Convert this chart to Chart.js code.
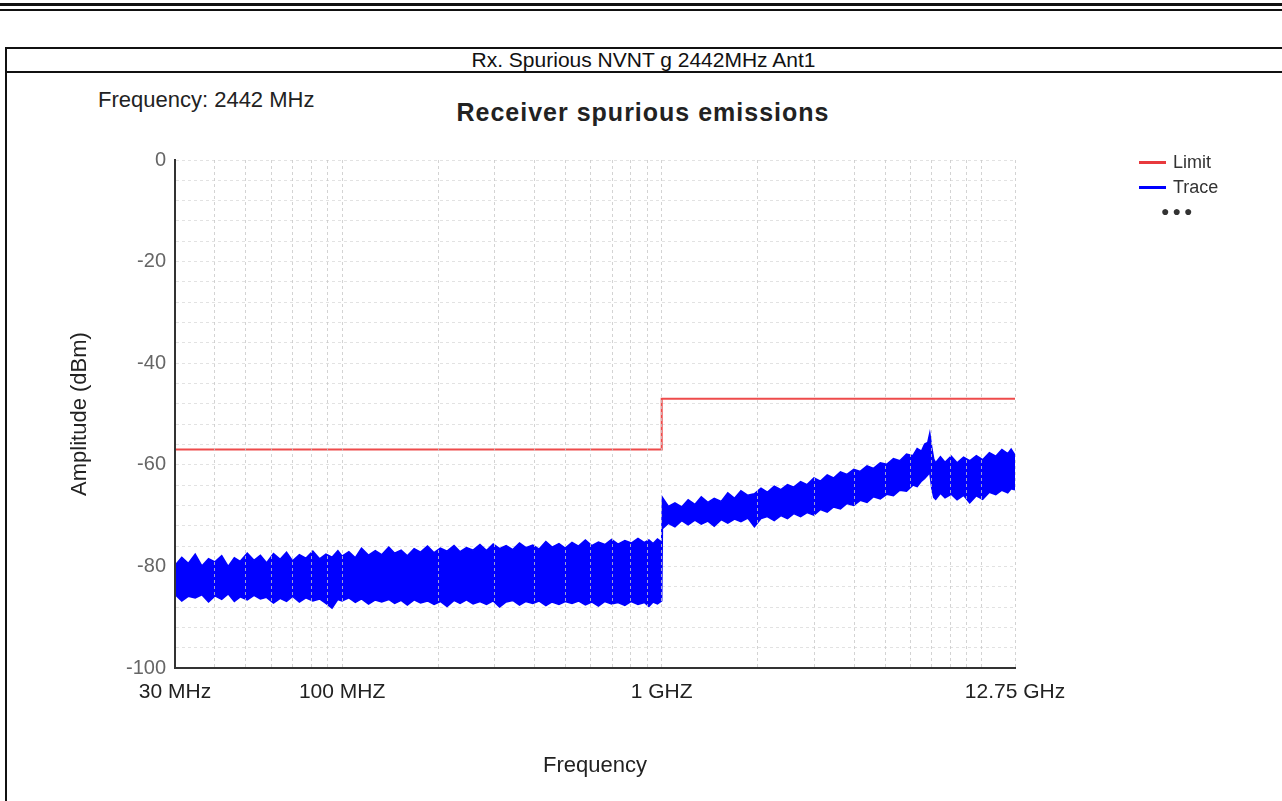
<!DOCTYPE html>
<html>
<head>
<meta charset="utf-8">
<title>Rx. Spurious NVNT g 2442MHz Ant1</title>
<script src="https://cdn.jsdelivr.net/npm/chart.js@4.4.1/dist/chart.umd.min.js"></script>
<style>
  html, body { margin: 0; padding: 0; background: #fff; }
  body { width: 1282px; height: 801px; position: relative; overflow: hidden; font-family: "Liberation Sans", Arial, sans-serif; color: #222; }
  .abs { position: absolute; }
  .rule1 { left: 0; top: 3px; width: 1282px; height: 3px; background: #111; }
  .rule2 { left: 0; top: 9px; width: 1282px; height: 2px; background: #111; }
  .tbl-top { left: 5px; top: 47px; width: 1277px; height: 1px; border-top: 2px solid #111; }
  .tbl-row { left: 5px; top: 71px; width: 1277px; height: 0; border-top: 2px solid #111; }
  .tbl-left { left: 5px; top: 47px; width: 0; height: 754px; border-left: 2px solid #111; }
  .row-title { left: 5px; top: 48px; width: 1277px; height: 23px; line-height: 23px; text-align: center; font-size: 21px; color: #111; }
  .freq-note { left: 98px; top: 88px; font-size: 22px; line-height: 24px; color: #222; white-space: nowrap; }
  .chart-title { left: 0; top: 97px; width: 1286px; text-align: center; font-size: 25px; font-weight: bold; letter-spacing: 1px; line-height: 30px; color: #222; white-space: nowrap; }
  .wrap { left: 6px; top: 73px; width: 1276px; height: 728px; }
  .legend { left: 1139px; top: 150px; font-size: 18px; color: #333; line-height: 25px; }
  .legend .item { position: relative; height: 25px; white-space: nowrap; }
  .legend .sw { display: inline-block; width: 27px; height: 3px; vertical-align: middle; margin-right: 7px; position: relative; top: -1px; }
  .legend .dots { padding-left: 22px; letter-spacing: 3px; font-size: 14px; line-height: 22px; }
</style>
</head>
<body>
<div class="abs rule1"></div>
<div class="abs rule2"></div>
<div class="abs tbl-top"></div>
<div class="abs tbl-row"></div>
<div class="abs tbl-left"></div>
<div class="abs row-title">Rx. Spurious NVNT g 2442MHz Ant1</div>
<div class="abs freq-note">Frequency: 2442 MHz</div>
<div class="abs chart-title">Receiver spurious emissions</div>
<div class="abs wrap"><canvas id="rx-chart" width="1276" height="728"></canvas></div>
<div class="abs legend">
  <div class="item"><span class="sw" style="background:#e8393d;"></span>Limit</div>
  <div class="item"><span class="sw" style="background:#0000ff;"></span>Trace</div>
  <div class="item dots">&#9679;&#9679;&#9679;</div>
</div>
<script>
(function() {
"use strict";

// Trace envelope (top / bottom of the noise band), MHz and dBm
var traceFreq = [30, 31.5, 33, 34.7, 36.4, 38.2, 40, 42, 44, 46,
  48, 50.5, 53, 55.5, 58, 61, 64, 67, 70, 73.5,
  77, 81, 85, 89, 93, 97, 100, 105, 110, 115,
  121, 127, 133, 140, 146, 153, 160, 168, 176, 185,
  194, 203, 213, 224, 234, 245, 257, 270, 283, 297,
  311, 326, 342, 359, 376, 395, 413, 434, 454, 477,
  499, 524, 549, 577, 604, 634, 664, 697, 730, 767,
  803, 843, 883, 912, 940, 970, 1000,
  1005, 1050, 1100, 1155, 1210, 1270, 1330, 1395, 1460, 1535,
  1610, 1690, 1770, 1860, 1950, 2045, 2140, 2250, 2360, 2475,
  2590, 2720, 2850, 2995, 3140, 3295, 3450, 3625, 3800, 3990,
  4180, 4390, 4600, 4830, 5060, 5310, 5560, 5835, 6110, 6300,
  6500, 6650, 6800, 6900, 7000, 7100, 7200, 7450, 7700, 8050,
  8400, 8800, 9200, 9650, 10100, 10600, 11100, 11600, 12100, 12400,
  12750];
var traceHigh = [-79.8, -78.2, -79.4, -77.6, -79.9, -78.5, -79.1, -77.9, -80.0, -78.3,
  -79.0, -77.4, -78.8, -77.8, -79.3, -77.5, -78.6, -77.2, -78.9, -77.7,
  -78.4, -77.0, -78.5, -77.6, -78.2, -76.9, -78.0, -77.1, -78.3, -76.4,
  -77.8, -76.9, -77.7, -76.2, -77.4, -76.8, -77.9, -76.5, -77.2, -76.0,
  -77.3, -76.4, -77.0, -75.9, -77.1, -76.3, -76.8, -75.7, -76.9, -75.6,
  -76.5, -75.9, -76.7, -75.4, -76.3, -75.8, -76.6, -75.1, -76.2, -75.5,
  -76.4, -75.3, -76.0, -74.8, -75.9, -75.2, -75.7, -74.7, -75.6, -74.9,
  -75.4, -74.5, -75.3, -74.8, -75.5, -74.6, -75.2,
  -66.4, -68.2, -67.5, -68.3, -66.9, -67.8, -66.3, -67.4, -66.6, -67.2,
  -65.5, -66.6, -65.1, -66.0, -65.7, -64.6, -65.4, -64.2, -64.9, -63.9,
  -64.4, -63.3, -63.9, -62.6, -63.2, -62.0, -62.6, -61.4, -61.9, -60.9,
  -61.3, -60.2, -60.7, -59.6, -59.9, -58.8, -59.2, -57.9, -58.2, -56.8,
  -57.3, -55.9, -55.6, -53.8, -56.6, -58.9, -59.6, -58.4, -59.5, -58.3,
  -59.6, -58.5, -59.2, -58.2, -59.0, -57.6, -58.3, -57.0, -57.8, -56.9,
  -58.1];
var traceLow = [-85.5, -86.8, -85.9, -86.2, -85.6, -87.0, -85.8, -86.5, -85.4, -86.9,
  -86.0, -86.6, -85.7, -86.4, -86.1, -87.2, -86.3, -86.9, -85.9, -87.0,
  -86.2, -86.8, -86.4, -87.3, -88.2, -86.5, -86.8, -86.2, -87.1, -86.4,
  -87.4, -86.6, -87.0, -86.5, -87.3, -86.7, -87.6, -86.6, -87.2, -86.8,
  -87.5, -86.9, -87.9, -86.7, -87.3, -86.6, -87.4, -86.9, -87.5, -86.8,
  -88.0, -87.0, -86.7, -87.6, -86.9, -87.3, -86.8, -87.7, -87.0, -87.5,
  -86.9, -87.3, -86.8, -87.6, -87.0, -87.8, -86.9, -87.4, -87.1, -87.7,
  -86.9, -87.5, -87.1, -87.9, -87.0, -87.4, -86.8,
  -72.6, -71.5, -72.2, -71.0, -71.8, -70.9, -71.7, -71.1, -72.1, -70.8,
  -71.5, -70.7, -71.2, -70.5, -72.2, -70.6, -70.2, -71.0, -70.0, -70.6,
  -69.6, -70.2, -69.4, -69.9, -68.8, -69.3, -68.3, -68.7, -67.6, -68.0,
  -67.0, -67.4, -66.3, -66.7, -65.8, -66.1, -65.0, -65.2, -64.0, -64.3,
  -63.2, -62.7, -62.0, -61.5, -64.6, -66.4, -66.8, -65.6, -66.5, -65.8,
  -66.9, -66.0, -67.5, -66.1, -66.8, -65.4, -65.9, -65.0, -65.5, -64.7,
  -64.9];

// Limit line steps
var limitFreq = [30, 1000, 1000, 12750];
var limitLevel = [-57, -57, -47, -47];

// Axis grid and labels
var xGridValues = [30, 40, 50, 60, 70, 80, 90, 100, 200, 300, 400, 500, 600, 700, 800, 900,
  1000, 2000, 3000, 4000, 5000, 6000, 7000, 8000, 9000, 10000, 12750];
var xLabelValues = [30, 100, 1000, 12750];
var xLabelTexts = ["30 MHz", "100 MHZ", "1 GHZ", "12.75 GHz"];
var yMin = -100, yMax = 0, yGridStep = 4, yLabelStep = 20;

var FONT = "'Liberation Sans', Arial, sans-serif";

function pts(xs, ys) {
  return xs.map(function(x, i) { return { x: x, y: ys[i] }; });
}

var canvas = document.getElementById("rx-chart");
new Chart(canvas.getContext("2d"), {
  type: "line",
  data: {
    datasets: [
      {
        label: "Limit",
        data: pts(limitFreq, limitLevel),
        borderColor: "#ee4b4b",
        borderWidth: 2,
        pointRadius: 0,
        fill: false,
        tension: 0
      },
      {
        label: "Trace",
        data: pts(traceFreq, traceHigh),
        borderColor: "#0000ff",
        backgroundColor: "#0000ff",
        borderWidth: 1.5,
        pointRadius: 0,
        fill: "+1",
        tension: 0
      },
      {
        label: "Trace low",
        data: pts(traceFreq, traceLow),
        borderColor: "#0000ff",
        borderWidth: 1.5,
        pointRadius: 0,
        fill: false,
        tension: 0
      }
    ]
  },
  options: {
    responsive: false,
    animation: false,
    events: [],
    layout: { padding: { left: 0, top: 87, right: 267, bottom: 0 } },
    plugins: { legend: { display: false }, tooltip: { enabled: false } },
    scales: {
      x: {
        type: "logarithmic",
        min: 30,
        max: 12750,
        afterBuildTicks: function(axis) {
          axis.ticks = xGridValues.map(function(v) { return { value: v }; });
        },
        afterFit: function(axis) { axis.height = 133; },
        ticks: {
          autoSkip: false,
          maxRotation: 0,
          padding: 12,
          color: "#222",
          font: { family: FONT, size: 21 },
          callback: function(v) {
            var i = xLabelValues.indexOf(v);
            return i >= 0 ? xLabelTexts[i] : "";
          }
        },
        // vertical grid sits over the trace, as in the analyser screenshot
        grid: { color: "rgba(200,200,200,0.8)", lineWidth: 1, drawTicks: false, z: 1 },
        border: { display: true, color: "#333", width: 2, dash: [3, 3], z: 2 },
        title: {
          display: true,
          text: "Frequency",
          color: "#222",
          font: { family: FONT, size: 22 },
          padding: { top: 0, bottom: 22 }
        }
      },
      y: {
        type: "linear",
        min: yMin,
        max: yMax,
        afterFit: function(axis) { axis.width = 169; },
        ticks: {
          stepSize: yGridStep,
          autoSkip: false,
          padding: 9,
          color: "#666",
          font: { family: FONT, size: 20 },
          callback: function(v) { return v % yLabelStep === 0 ? String(v) : ""; }
        },
        grid: { color: "#e2e2e2", lineWidth: 1, drawTicks: false },
        border: { display: true, color: "#333", width: 2, dash: [3, 3], z: 2 },
        title: {
          display: true,
          text: "Amplitude (dBm)",
          color: "#222",
          font: { family: FONT, size: 22 },
          padding: { top: 61, bottom: 0 }
        }
      }
    }
  }
});

})();
</script>
</body>
</html>
